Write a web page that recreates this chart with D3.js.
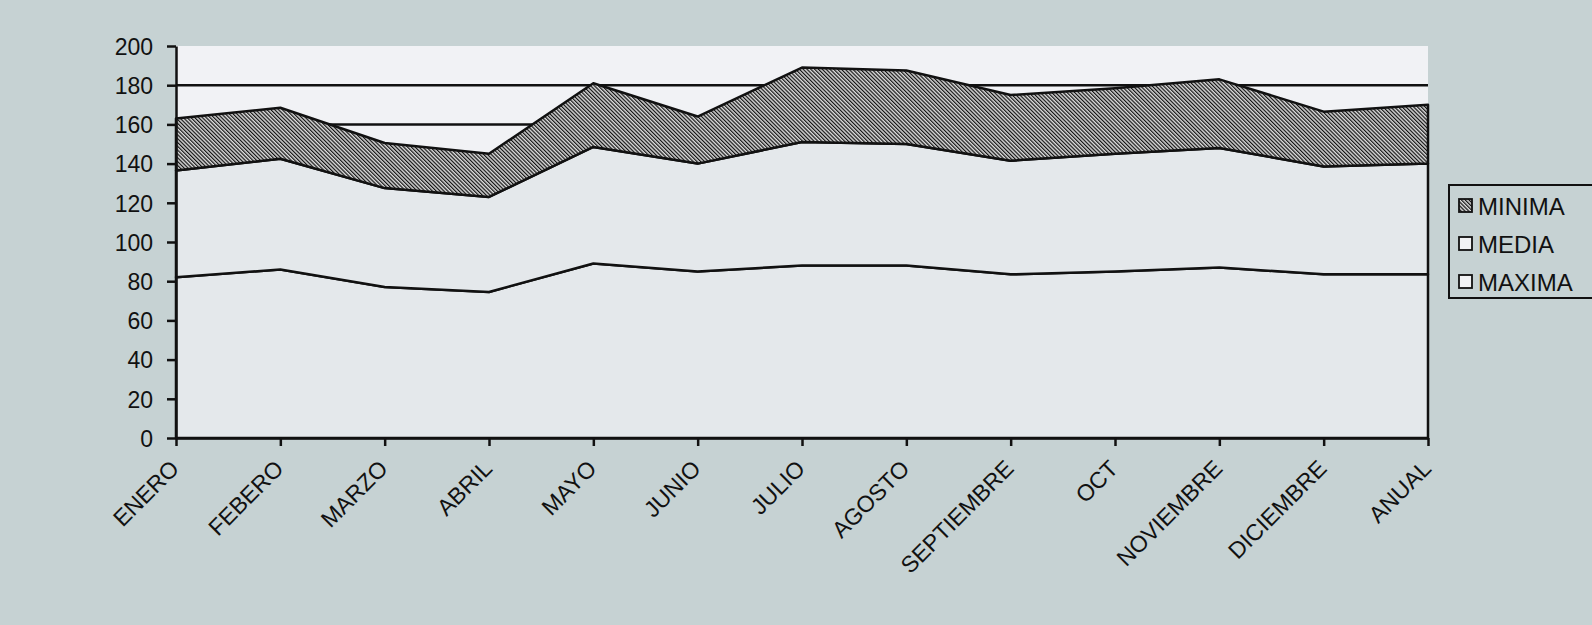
<!DOCTYPE html>
<html lang="es">
<head>
  <meta charset="UTF-8">
  <title>Area apilada</title>
  <script src="https://d3js.org/d3.v7.min.js"></script>
  <style>
    body { margin: 0; background: #c6d2d3; }
    text { font-family: "Liberation Sans", Arial, sans-serif; fill: #111; }
    .axis path, .axis line { stroke: #111; stroke-width: 2.5px; }
    .axis text { font-size: 23px; }
    .grid line { stroke: #111; stroke-width: 2.5px; }
    .legend text { font-size: 24px; }
  </style>
</head>
<body>
  <div id="chart"></div>
  <script>
    // valores (espesor de cada capa apilada)
    const categories = ["ENERO", "FEBERO", "MARZO", "ABRIL", "MAYO", "JUNIO", "JULIO",
                        "AGOSTO", "SEPTIEMBRE", "OCT", "NOVIEMBRE", "DICIEMBRE", "ANUAL"];
    const maxima = [82, 86, 77, 74.5, 89, 85, 88, 88, 83.5, 85, 87, 83.5, 83.5];
    const media  = [54.5, 56.5, 50.5, 48.5, 59.5, 55, 63, 62, 58, 60, 61, 55, 56.5];
    const minima = [26.5, 26, 23, 22, 32.5, 24, 38, 37.5, 33.5, 33.5, 35, 28, 30];
    const yTicks = [0, 20, 40, 60, 80, 100, 120, 140, 160, 180, 200];
    const seriesNames = ["MAXIMA", "MEDIA", "MINIMA"];

    const W = 1592, H = 625;
    const plot = { left: 176, right: 1428, top: 46, bottom: 438 };

    const rows = categories.map((c, i) => ({ cat: c, MAXIMA: maxima[i], MEDIA: media[i], MINIMA: minima[i] }));
    const stacked = d3.stack().keys(seriesNames)(rows);

    const svg = d3.select("#chart").append("svg")
      .attr("width", W).attr("height", H);

    svg.append("rect").attr("width", W).attr("height", H).attr("fill", "#c6d2d3");

    // hatch pattern for MINIMA
    const defs = svg.append("defs");
    const pat = defs.append("pattern")
      .attr("id", "hatch")
      .attr("patternUnits", "userSpaceOnUse")
      .attr("width", 2.7).attr("height", 10)
      .attr("patternTransform", "rotate(-45)");
    pat.append("rect").attr("width", 2.7).attr("height", 10).attr("fill", "#dadada");
    pat.append("line").attr("x1", 0.6).attr("x2", 0.6).attr("y1", 0).attr("y2", 10)
      .attr("stroke", "#111").attr("stroke-width", 1.2);

    const fills = { MAXIMA: "#e4e8eb", MEDIA: "#e4e8eb", MINIMA: "url(#hatch)" };

    const x = d3.scalePoint().domain(categories).range([plot.left, plot.right]);
    const y = d3.scaleLinear().domain([0, 200]).range([plot.bottom, plot.top]);

    // plot background
    svg.append("rect")
      .attr("x", plot.left).attr("y", plot.top)
      .attr("width", plot.right - plot.left).attr("height", plot.bottom - plot.top)
      .attr("fill", "#f1f2f5");

    // gridlines (behind areas)
    svg.append("g").attr("class", "grid")
      .selectAll("line")
      .data(yTicks.filter(d => d > 0 && d < 200))
      .enter().append("line")
      .attr("x1", plot.left).attr("x2", plot.right)
      .attr("y1", d => y(d)).attr("y2", d => y(d));

    const area = d3.area()
      .x(d => x(d.data.cat))
      .y0(d => y(d[0]))
      .y1(d => y(d[1]));

    svg.append("g")
      .selectAll("path")
      .data(stacked)
      .enter().append("path")
      .attr("d", area)
      .attr("fill", d => fills[d.key])
      .attr("stroke", "#111")
      .attr("stroke-width", 2.5)
      .attr("stroke-linejoin", "round");

    // y axis
    svg.append("g")
      .attr("class", "axis")
      .attr("transform", `translate(${plot.left},0)`)
      .call(d3.axisLeft(y).tickValues(yTicks).tickSize(9).tickSizeOuter(0).tickPadding(14))
      .call(g => g.selectAll("text").attr("dy", "0.36em"));

    // x axis
    const xAxis = svg.append("g")
      .attr("class", "axis")
      .attr("transform", `translate(0,${plot.bottom})`)
      .call(d3.axisBottom(x).tickSize(8).tickSizeOuter(0));
    xAxis.selectAll("text")
      .attr("text-anchor", "end")
      .attr("dy", null)
      .attr("y", 0)
      .attr("transform", "translate(4,32) rotate(-45)");

    // legend
    const legend = svg.append("g").attr("class", "legend")
      .attr("transform", "translate(1449,185)");
    legend.append("rect")
      .attr("width", 170).attr("height", 113)
      .attr("fill", "#c6d2d3").attr("stroke", "#111").attr("stroke-width", 2);
    const items = legend.selectAll("g.item")
      .data(seriesNames.slice().reverse())
      .enter().append("g").attr("class", "item")
      .attr("transform", (d, i) => `translate(10,${21 + i * 38})`);
    items.append("rect")
      .attr("x", 0).attr("y", -7).attr("width", 13).attr("height", 13)
      .attr("fill", d => d === "MINIMA" ? "url(#hatch)" : "#f2f3f5")
      .attr("stroke", "#111").attr("stroke-width", 1.8);
    items.append("text")
      .attr("x", 19).attr("y", 0).attr("dy", "0.36em")
      .text(d => d);
  </script>
</body>
</html>
